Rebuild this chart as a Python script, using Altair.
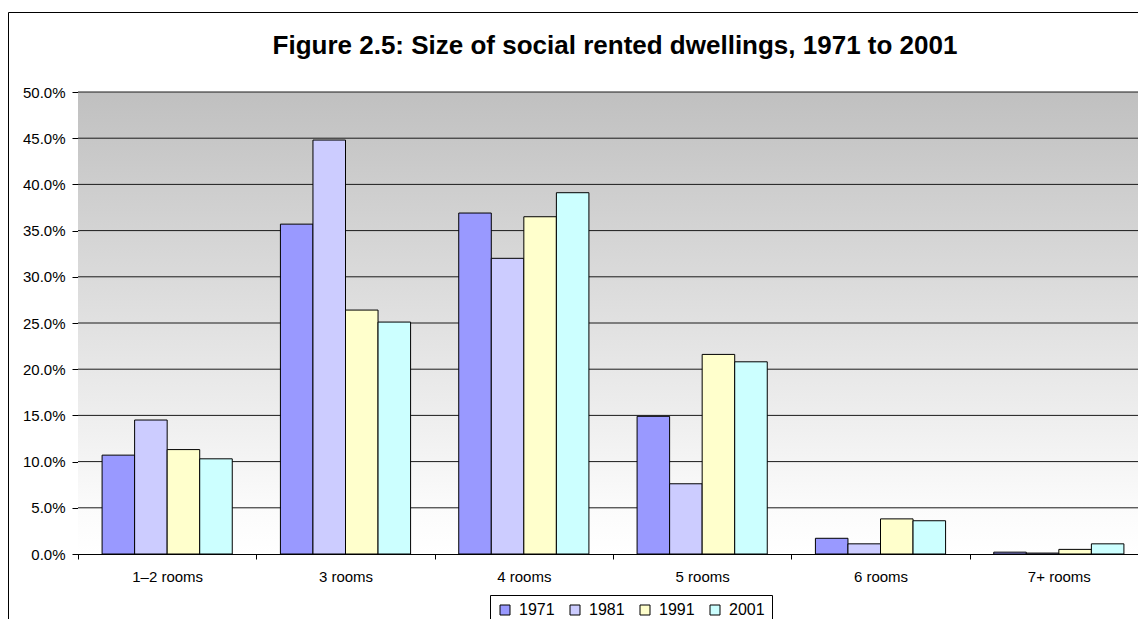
import altair as alt
import pandas as pd

# ---- data ----
categories = ["1–2 rooms", "3 rooms", "4 rooms", "5 rooms", "6 rooms", "7+ rooms"]
years = ["1971", "1981", "1991", "2001"]
v1971 = [10.7, 35.7, 36.9, 14.9, 1.7, 0.2]
v1981 = [14.5, 44.8, 32.0, 7.6, 1.1, 0.1]
v1991 = [11.3, 26.4, 36.5, 21.6, 3.8, 0.5]
v2001 = [10.3, 25.1, 39.1, 20.8, 3.6, 1.1]
year_colors = ["#9999ff", "#ccccff", "#ffffcc", "#ccffff"]
y_ticks = [0.0, 0.05, 0.10, 0.15, 0.20, 0.25, 0.30, 0.35, 0.40, 0.45, 0.50]
title_text = "Figure 2.5: Size of social rented dwellings, 1971 to 2001"

series = {"1971": v1971, "1981": v1981, "1991": v1991, "2001": v2001}
rows = []
for yr in years:
    for cat, v in zip(categories, series[yr]):
        rows.append({"cat": cat, "year": yr, "val": v / 100.0})
df = pd.DataFrame(rows)
grid_df = pd.DataFrame({"g": y_ticks[1:]})
one = pd.DataFrame({"a": [0]})

W, H = 1070, 462
FONT = "Liberation Sans"

yscale = alt.Scale(domain=[0, 0.5], nice=False, zero=True)
y_axis = alt.Axis(values=y_ticks, format=".1%", grid=False,
                  domainColor="#000000", tickColor="#000000", tickSize=6,
                  labelFont=FONT, labelFontSize=15, labelColor="#000000",
                  labelPadding=7)

background = alt.Chart(one).mark_rect(
    fill=alt.LinearGradient(
        gradient="linear", x1=0, y1=0, x2=0, y2=1,
        stops=[alt.GradientStop(offset=0, color="#c0c0c0"),
               alt.GradientStop(offset=0.9, color="#fbfbfb"),
               alt.GradientStop(offset=1, color="#ffffff")],
    )
).encode(x=alt.value(0), x2=alt.value(W + 10), y=alt.value(0), y2=alt.value(H))

frame_top = alt.Chart(one).mark_rule(color="#000000", strokeWidth=1).encode(
    x=alt.value(-69.5), x2=alt.value(W + 40), y=alt.value(-79.5)
)
frame_left = alt.Chart(one).mark_rule(color="#000000", strokeWidth=1).encode(
    x=alt.value(-69.5), y=alt.value(-79.5), y2=alt.value(H + 80)
)

title = alt.Chart(one).mark_text(
    text=title_text, font=FONT, fontSize=26, fontWeight="bold",
    align="center", baseline="alphabetic", color="#000000"
).encode(x=alt.value(537), y=alt.value(-38.5))

grid = alt.Chart(grid_df).mark_rule(color="#1a1a1a", strokeWidth=1).encode(
    y=alt.Y("g:Q", scale=yscale, axis=y_axis, title=None),
    x=alt.value(0), x2=alt.value(W + 10),
)

bars = alt.Chart(df).mark_bar(stroke="#000000", strokeWidth=1, opacity=1).encode(
    x=alt.X("cat:N", sort=categories, title=None,
            scale=alt.Scale(paddingInner=0, paddingOuter=0),
            axis=alt.Axis(tickBand="extent", grid=False, labelAngle=0,
                          domainColor="#000000", tickColor="#000000", tickSize=5,
                          labelFont=FONT, labelFontSize=15, labelColor="#000000",
                          labelPadding=10)),
    xOffset=alt.XOffset("year:N", sort=years,
                        scale=alt.Scale(paddingInner=0, paddingOuter=0.74)),
    y=alt.Y("val:Q", scale=yscale, title=None, axis=y_axis),
    color=alt.Color("year:N", sort=years,
                    scale=alt.Scale(domain=years, range=year_colors),
                    legend=alt.Legend(
                        title=None, orient="none", direction="horizontal",
                        legendX=412, legendY=503,
                        symbolType="square", symbolSize=100,
                        symbolStrokeColor="#000000", symbolStrokeWidth=1,
                        symbolOpacity=1,
                        labelFont=FONT, labelFontSize=16, labelColor="#000000",
                        labelOffset=6, columnPadding=12,
                        padding=7, strokeColor="#000000", fillColor="#ffffff")),
)

chart = alt.layer(background, grid, bars, frame_top, frame_left, title).properties(
    width=W, height=H,
    autosize=alt.AutoSizeParams(type="none"),
    padding={"left": 70, "top": 84, "right": -10, "bottom": 65},
    background="#ffffff",
).configure_view(stroke=None)

chart.save("out.html", embed_options={"renderer": "svg", "actions": False})
